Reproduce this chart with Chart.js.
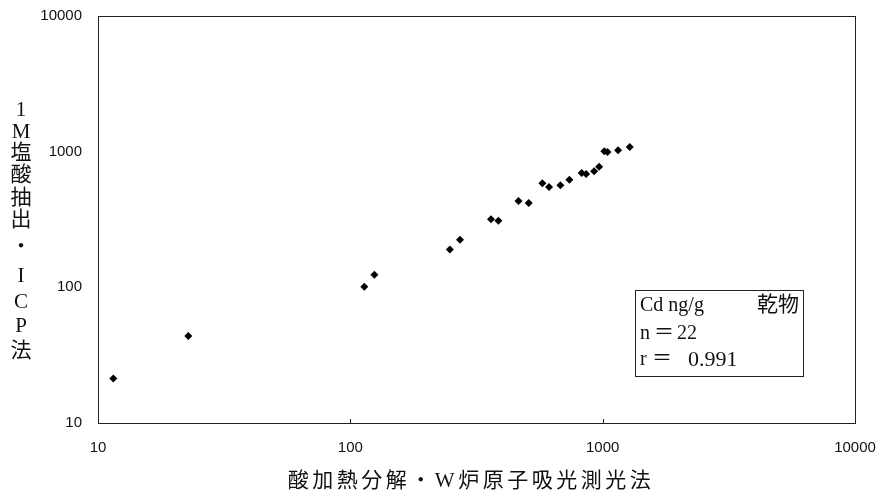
<!DOCTYPE html>
<html>
<head>
<meta charset="utf-8">
<script src="https://cdn.jsdelivr.net/npm/chart.js@4"></script>
<style>
  html, body { margin: 0; padding: 0; background: #fff; }
  #wrap { width: 882px; height: 493px; }
</style>
</head>
<body>
<div id="wrap"><canvas id="cd"></canvas></div>
<script>
// 酸加熱分解・W炉原子吸光測光法 (x) vs 1M塩酸抽出・ICP法 (y), Cd ng/g
const xVals = [11.5, 22.8, 113.6, 124.5, 248, 272, 361, 386, 464, 509, 577, 613, 680, 738, 826, 860, 925, 968, 1015, 1045, 1151, 1280];
const yVals = [21.3, 43.7, 101, 124, 190, 224, 318, 310, 433, 418, 584, 548, 565, 621, 695, 684, 716, 775, 1005, 995, 1024, 1082];
const tickVals = [10, 100, 1000, 10000];
const yTitle = ['1', 'M', '塩', '酸', '抽', '出', '・', 'I', 'C', 'P', '法'];
const yTitlePos = [110, 132, 153, 175, 198, 220, 247, 276, 302, 326, 351];
const xTitle = '酸加熱分解・W炉原子吸光測光法';

const serif = '"Liberation Serif", "Noto Sans CJK JP", serif';
const sans = '"Liberation Sans", Arial, sans-serif';

const pts = xVals.map((x, i) => ({ x: x, y: yVals[i] }));

function noPad(s) {
  s.paddingTop = 0;
  s.paddingBottom = 0;
  s.paddingLeft = 0;
  s.paddingRight = 0;
}

const extras = {
  id: 'extras',
  afterDraw(chart) {
    const c = chart.ctx;
    const a = chart.chartArea;
    c.save();
    // frame
    c.strokeStyle = '#222';
    c.lineWidth = 1;
    c.strokeRect(a.left + 0.5, a.top + 0.5, a.right - a.left, a.bottom - a.top);
    // small ticks on x axis
    const xs = chart.scales.x;
    [100, 1000].forEach(v => {
      const px = Math.round(xs.getPixelForValue(v)) + 0.5;
      c.beginPath();
      c.moveTo(px, a.bottom);
      c.lineTo(px, a.bottom - 4);
      c.stroke();
    });
    // y title, one char per line
    c.fillStyle = '#111';
    c.font = '21px ' + serif;
    c.textAlign = 'center';
    c.textBaseline = 'middle';
    yTitle.forEach((ch, i) => c.fillText(ch, 21, yTitlePos[i]));
    // x title
    c.font = '21px ' + serif;
    c.letterSpacing = '3.5px';
    c.fillText(xTitle, 471, 481);
    c.letterSpacing = '0px';
    // stats box
    c.strokeStyle = '#222';
    c.strokeRect(635.5, 290.5, 168, 86);
    c.textAlign = 'left';
    c.font = '20px ' + serif;
    c.fillText('Cd ng/g', 640, 306);
    c.font = '21px ' + serif;
    c.fillText('乾物', 757, 305);
    c.font = '20px ' + serif;
    c.fillText('n', 640, 334);
    c.fillText('＝', 654, 334);
    c.fillText('22', 677, 334);
    c.fillText('r', 640, 360);
    c.fillText('＝', 652, 360);
    c.font = '22px ' + serif;
    c.fillText('0.991', 688, 360);
    c.restore();
  }
};

new Chart(document.getElementById('cd'), {
  type: 'scatter',
  data: {
    datasets: [{
      data: pts,
      pointStyle: 'rectRot',
      pointRadius: 4,
      pointHoverRadius: 4,
      backgroundColor: '#000',
      borderColor: '#000',
      borderWidth: 0
    }]
  },
  options: {
    responsive: true,
    maintainAspectRatio: false,
    animation: false,
    layout: { padding: { left: 0, right: 27, top: 16, bottom: 0 } },
    plugins: { legend: { display: false }, tooltip: { enabled: false } },
    scales: {
      x: {
        type: 'logarithmic',
        min: 10,
        max: 10000,
        afterBuildTicks: s => { s.ticks = tickVals.map(v => ({ value: v })); },
        afterFit: s => { s.height = 70; noPad(s); },
        grid: { display: false, drawTicks: false },
        border: { display: false },
        ticks: {
          color: '#111',
          padding: 16,
          maxRotation: 0,
          font: { family: sans, size: 15 },
          callback: v => String(v)
        }
      },
      y: {
        type: 'logarithmic',
        min: 10,
        max: 10000,
        afterBuildTicks: s => { s.ticks = tickVals.map(v => ({ value: v })); },
        afterFit: s => { s.width = 98; noPad(s); },
        grid: { display: false, drawTicks: false },
        border: { display: false },
        ticks: {
          color: '#111',
          padding: 16,
          font: { family: sans, size: 15 },
          callback: v => String(v)
        }
      }
    }
  },
  plugins: [extras]
});
</script>
</body>
</html>
